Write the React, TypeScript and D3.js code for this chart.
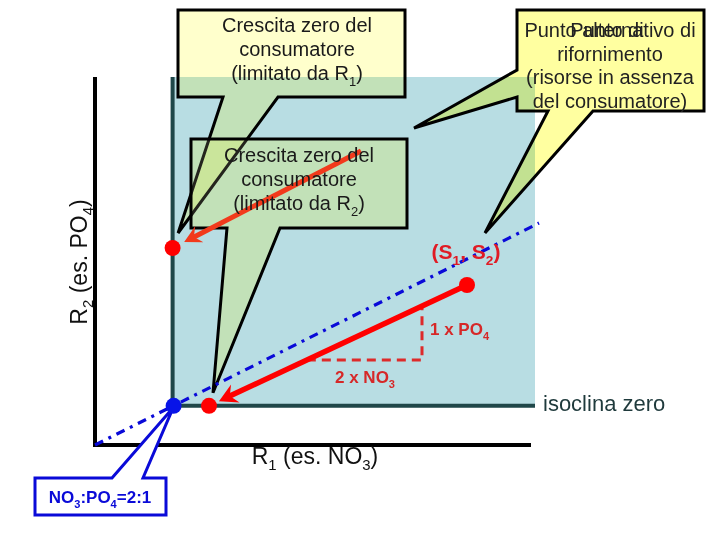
import React from "react";
import * as d3 from "d3";

// ---- data (resource units) ----
const R1_DOMAIN = [0, 110];
const R2_DOMAIN = [0, 92];
const AXIS_R1_END = [109];
const ZNGI = [19.4, 9.8]; // [R1*, R2*] zero net growth isocline corner
const SUPPLY_POINT = [93, 40]; // (S1, S2)
const POINT_R1_LIMITED = [19.4, 49.25]; // on vertical isocline
const POINT_R2_LIMITED = [28.5, 9.8]; // on horizontal isocline
const SUPPLY_RATIO_LINE = [
  [0, 0],
  [111, 55.5],
];
const ARROW_START = [66.5, 73.5];
const STOICH_CORNER = [81.75, 21.25];

// ---- labels ----
const CALLOUT_R1 = ["Crescita zero del", "consumatore", "(limitato da R_{1})"];
const CALLOUT_R2 = ["Crescita zero del", "consumatore", "(limitato da R_{2})"];
const CALLOUT_SUPPLY = ["Punto alternativo di", "rifornimento", "(risorse in assenza", "del consumatore)"];
const CALLOUT_SUPPLY_OVERLAP = "Punto di";
const RATIO_LABEL = "NO_{3}:PO_{4}=2:1";
const X_LABEL = "R_{1} (es. NO_{3})";
const Y_LABEL = "R_{2} (es. PO_{4})";
const SUPPLY_LABEL = "(S_{1}, S_{2})";
const PO4_LABEL = "1 x PO_{4}";
const NO3_LABEL = "2 x NO_{3}";
const ISO_LABEL = "isoclina zero";

const FONT = "'Liberation Sans', Arial, Helvetica, sans-serif";

function Rich({ text, fs }: { text: string; fs: number }) {
  const parts = text.split(/(_\{[^}]*\})/).filter((p) => p !== "");
  let shifted = false;
  const out: any[] = [];
  parts.forEach((p, i) => {
    if (p.startsWith("_{")) {
      out.push(
        <tspan key={i} dy={fs * 0.28} fontSize={fs * 0.65}>
          {p.slice(2, -1)}
        </tspan>
      );
      shifted = true;
    } else {
      out.push(
        <tspan key={i} dy={shifted ? -fs * 0.28 : 0}>
          {p}
        </tspan>
      );
      shifted = false;
    }
  });
  return <>{out}</>;
}

function arrowHead(tip: number[], from: number[], len: number, half: number, notch: number) {
  const a = Math.atan2(tip[1] - from[1], tip[0] - from[0]);
  const c = Math.cos(a);
  const s = Math.sin(a);
  const pt = (dx: number, dy: number) => [tip[0] + dx * c - dy * s, tip[1] + dx * s + dy * c];
  const p1 = pt(-len, -half);
  const p2 = pt(-len + notch, 0);
  const p3 = pt(-len, half);
  return `M${tip[0]},${tip[1]}L${p1[0]},${p1[1]}L${p2[0]},${p2[1]}L${p3[0]},${p3[1]}Z`;
}

function towards(p: number[], q: number[], d: number) {
  const dx = q[0] - p[0];
  const dy = q[1] - p[1];
  const L = Math.hypot(dx, dy);
  return [p[0] + (dx / L) * d, p[1] + (dy / L) * d];
}

function CalloutShape({ d, fill }: { d: string; fill: string }) {
  return (
    <g>
      <path d={d} fill={fill} style={{ mixBlendMode: "multiply" }} />
      <path d={d} fill={fill} fillOpacity={0.14} />
      <path d={d} fill="none" stroke="#000" strokeWidth={3} strokeLinejoin="miter" />
    </g>
  );
}

export default function App() {
  const x = d3.scaleLinear().domain(R1_DOMAIN).range([95, 535]);
  const y = d3.scaleLinear().domain(R2_DOMAIN).range([445, 77]);
  const P = (d: number[]) => [x(d[0]), y(d[1])];

  const line = d3.line<number[]>().x((d) => x(d[0])).y((d) => y(d[1]));

  const sp = P(SUPPLY_POINT);
  const eq2 = P(POINT_R2_LIMITED);
  const eq1 = P(POINT_R1_LIMITED);
  const consTip = towards(eq2, sp, 11);
  const consLineEnd = towards(eq2, sp, 20);

  const slope = (SUPPLY_POINT[1] - POINT_R2_LIMITED[1]) / (SUPPLY_POINT[0] - POINT_R2_LIMITED[0]);
  const hStartR1 = POINT_R2_LIMITED[0] + (STOICH_CORNER[1] - POINT_R2_LIMITED[1]) / slope;
  const vEndR2 = POINT_R2_LIMITED[1] + (STOICH_CORNER[0] - POINT_R2_LIMITED[0]) * slope;
  const tri = [
    [hStartR1, STOICH_CORNER[1]],
    STOICH_CORNER,
    [STOICH_CORNER[0], vEndR2],
  ];

  const aStart = P(ARROW_START);
  const aTip = towards(eq1, aStart, 13);
  const aLineEnd = towards(eq1, aStart, 22);

  const corner = P(ZNGI);
  const top = y(R2_DOMAIN[1]);
  const right = x(R1_DOMAIN[1]);

  const tipR1 = [eq1[0] + 5.5, eq1[1] - 15];
  const tipR2 = [eq2[0] + 4, eq2[1] - 13];
  const tipRatio = [corner[0] + 0.5, corner[1] + 2];

  const pathTL = `M178,10H405V97H278L${tipR1[0]},${tipR1[1]}L223,97H178Z`;
  const pathMID = `M191,139H407V228H280L${tipR2[0]},${tipR2[1]}L227,228H191Z`;
  const pathTR = `M517,10H704V111H593L485,233L548,111H517V97L414,128L517,70Z`;
  const pathBL = `M35,478H112L${tipRatio[0]},${tipRatio[1]}L143,478H166V515H35Z`;

  const fsC = 20;

  return (
    <svg
      width={720}
      height={540}
      style={{ position: "fixed", left: 0, top: 0, background: "#fff" }}
      fontFamily={FONT}
    >
      <rect x={0} y={0} width={720} height={540} fill="#fff" />
      <rect x={corner[0]} y={top} width={right - corner[0]} height={corner[1] - top} fill="#b8dde3" />
      <path
        d={`M${corner[0]},${top}V${corner[1]}H${right}`}
        fill="none"
        stroke="#1f4749"
        strokeWidth={4}
      />
      <path
        d={`M${x(0)},${top}V${y(0)}H${x(AXIS_R1_END[0])}`}
        fill="none"
        stroke="#000"
        strokeWidth={4}
      />

      <CalloutShape d={pathTL} fill="#ffffcc" />
      <text textAnchor="middle" fontSize={fsC} fill="#1a1a1a">
        {CALLOUT_R1.map((t, i) => (
          <tspan key={i} x={297} y={32 + i * 24}>
            <Rich text={t} fs={fsC} />
          </tspan>
        ))}
      </text>

      <CalloutShape d={pathTR} fill="#ffffa0" />
      <text textAnchor="middle" fontSize={fsC} fill="#222">
        {CALLOUT_SUPPLY.map((t, i) => (
          <tspan key={i} x={610} y={37 + i * 23.5}>
            {t}
          </tspan>
        ))}
      </text>
      <text textAnchor="middle" fontSize={fsC} fill="#222" x={607} y={37}>
        {CALLOUT_SUPPLY_OVERLAP}
      </text>

      <CalloutShape d={pathMID} fill="#ffffcc" />
      <line x1={aStart[0]} y1={aStart[1]} x2={aLineEnd[0]} y2={aLineEnd[1]} stroke="#f23a1c" strokeWidth={5} />
      <path d={arrowHead(aTip, aStart, 17, 9, 6)} fill="#f23a1c" />
      <text textAnchor="middle" fontSize={fsC} fill="#1a1a1a">
        {CALLOUT_R2.map((t, i) => (
          <tspan key={i} x={299} y={162 + i * 24}>
            <Rich text={t} fs={fsC} />
          </tspan>
        ))}
      </text>

      <path d={line(SUPPLY_RATIO_LINE) || ""} fill="none" stroke="#0a0ad8" strokeWidth={3.2} strokeDasharray="9,6,3,6" />

      <path d={line(tri) || ""} fill="none" stroke="#dd2a2a" strokeWidth={3} strokeDasharray="9,6" />

      <line x1={sp[0]} y1={sp[1]} x2={consLineEnd[0]} y2={consLineEnd[1]} stroke="#f00" strokeWidth={5.5} />
      <path d={arrowHead(consTip, sp, 18, 10, 6)} fill="#f00" />

      <path d={pathBL} fill="#fff" stroke="#0a0ad8" strokeWidth={3} />
      <text x={100} y={503} textAnchor="middle" fontSize={17} fontWeight="bold" fill="#0a0ad8">
        <Rich text={RATIO_LABEL} fs={17} />
      </text>

      <circle cx={corner[0] + 1} cy={corner[1]} r={8} fill="#0814e8" />
      <circle cx={eq1[0]} cy={eq1[1]} r={8} fill="#f00" />
      <circle cx={eq2[0]} cy={eq2[1]} r={8} fill="#f00" />
      <circle cx={sp[0]} cy={sp[1]} r={8} fill="#f00" />

      <text x={466} y={259} textAnchor="middle" fontSize={21} fontWeight="bold" fill="#e01b24">
        <Rich text={SUPPLY_LABEL} fs={21} />
      </text>
      <text x={430} y={335} fontSize={17} fontWeight="bold" fill="#d62828">
        <Rich text={PO4_LABEL} fs={17} />
      </text>
      <text x={335} y={383} fontSize={17} fontWeight="bold" fill="#d62828">
        <Rich text={NO3_LABEL} fs={17} />
      </text>
      <text x={543} y={411} fontSize={22} fill="#1f3a3c">
        {ISO_LABEL}
      </text>
      <text x={315} y={464} textAnchor="middle" fontSize={23} fill="#111">
        <Rich text={X_LABEL} fs={23} />
      </text>
      <text transform="translate(87,262) rotate(-90)" textAnchor="middle" fontSize={23} fill="#111">
        <Rich text={Y_LABEL} fs={23} />
      </text>
    </svg>
  );
}
